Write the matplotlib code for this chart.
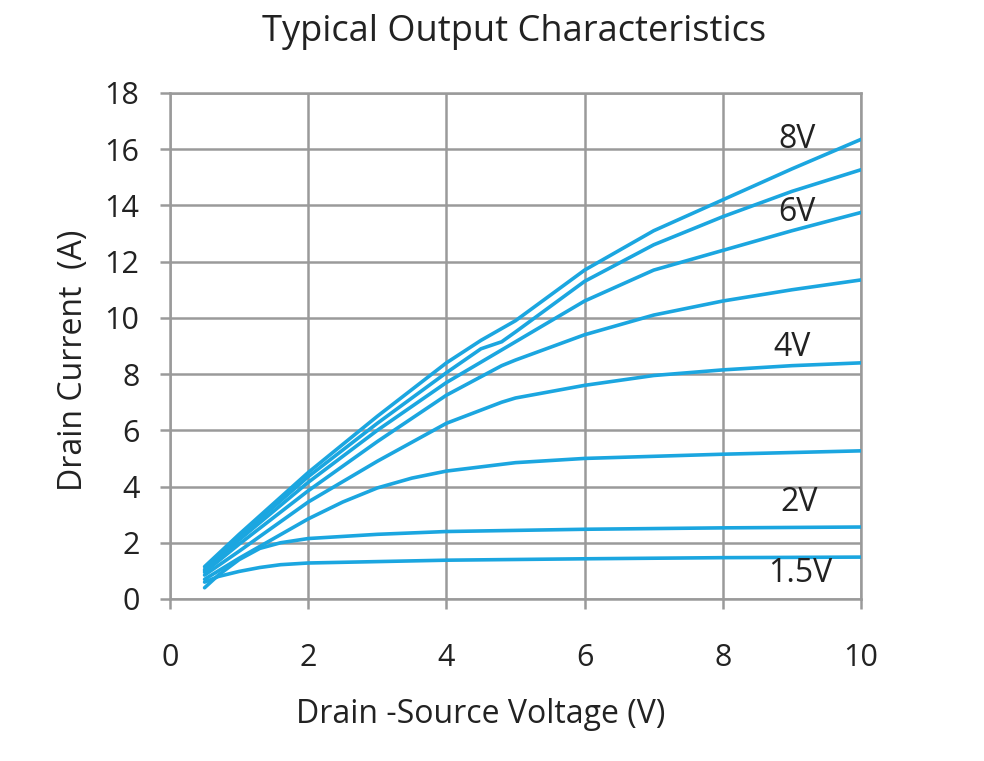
import matplotlib.pyplot as plt

plt.rcParams['font.family'] = ['Open Sans', 'DejaVu Sans']

vds_top = [0.5, 1, 2, 3, 4, 4.5, 5, 6, 7, 8, 9, 10]
id_top = [1.15, 2.3, 4.5, 6.5, 8.4, 9.2, 9.9, 11.7, 13.1, 14.2, 15.3, 16.35]

vds_2 = [0.5, 1, 2, 3, 4, 4.5, 4.8, 5, 6, 7, 8, 9, 10]
id_2 = [1.05, 2.2, 4.35, 6.25, 8.05, 8.9, 9.15, 9.5, 11.3, 12.6, 13.6, 14.5, 15.27]

vds_3 = [0.5, 1, 2, 3, 4, 5, 6, 7, 8, 9, 10]
id_3 = [1.0, 2.1, 4.15, 6.0, 7.7, 9.15, 10.6, 11.7, 12.4, 13.1, 13.75]

vds_4 = [0.5, 1, 2, 3, 4, 4.8, 5, 6, 7, 8, 9, 10]
id_4 = [0.95, 1.95, 3.85, 5.6, 7.25, 8.3, 8.5, 9.4, 10.1, 10.6, 11.0, 11.35]

vds_5 = [0.5, 1, 2, 3, 4, 4.8, 5, 6, 7, 8, 9, 10]
id_5 = [0.85, 1.7, 3.45, 4.9, 6.25, 7.0, 7.15, 7.6, 7.95, 8.15, 8.3, 8.4]

vds_6 = [0.5, 1, 1.5, 2, 2.5, 3, 3.5, 4, 5, 6, 8, 10]
id_6 = [0.7, 1.45, 2.15, 2.85, 3.45, 3.95, 4.3, 4.55, 4.85, 5.0, 5.15, 5.27]

vds_2v = [0.5, 0.7, 1, 1.3, 1.6, 2, 3, 4, 6, 8, 10]
id_2v = [0.4, 0.85, 1.4, 1.8, 2.0, 2.15, 2.3, 2.4, 2.48, 2.53, 2.56]

vds_15v = [0.5, 0.7, 1, 1.3, 1.6, 2, 4, 6, 8, 10]
id_15v = [0.6, 0.8, 0.98, 1.12, 1.22, 1.28, 1.38, 1.43, 1.47, 1.49]

curves = [(vds_top, id_top), (vds_2, id_2), (vds_3, id_3), (vds_4, id_4),
          (vds_5, id_5), (vds_6, id_6), (vds_2v, id_2v), (vds_15v, id_15v)]

labels = ['8V', '6V', '4V', '2V', '1.5V']
label_x = [9.07, 9.07, 9.0, 9.1, 9.12]
label_y = [16.33, 13.74, 8.93, 3.42, 0.89]

blue = '#1ba6e0'
grey = '#9a9a9a'
ink = '#222222'

fig = plt.figure(figsize=(9.84, 7.61), dpi=100)
ax = fig.add_axes([0.1728, 0.2129, 0.7022, 0.6649])

for x, y in curves:
    ax.plot(x, y, color=blue, lw=2.6, solid_capstyle='round',
            solid_joinstyle='round', zorder=3)

for t, x, y in zip(labels, label_x, label_y):
    ax.text(x, y, t, fontsize=23, color=ink, ha='center', va='center', zorder=4)

ax.set_xlim(0, 10)
ax.set_ylim(0, 18)
ax.set_xticks(range(0, 11, 2))
ax.set_yticks(range(0, 19, 2))
ax.grid(True, color=grey, lw=1.8)
ax.set_axisbelow(True)
for s in ax.spines.values():
    s.set_color(grey)
    s.set_linewidth(1.8)
ax.tick_params(colors=grey, width=1.8, length=7, labelcolor=ink, labelsize=22)
ax.tick_params(axis='x', pad=25)
ax.tick_params(axis='y', pad=15)

ax.set_xlabel('Drain -Source Voltage (V)', fontsize=23, color=ink, labelpad=20)
ax.xaxis.set_label_coords(0.45, -0.195)
ax.set_ylabel('Drain Current  (A)', fontsize=23, color=ink, labelpad=12)
ax.yaxis.set_label_coords(-0.116, 0.472)
fig.suptitle('Typical Output Characteristics', fontsize=26, color=ink, x=0.522, y=0.982)

fig.savefig('out.png', dpi=100, facecolor='white')
